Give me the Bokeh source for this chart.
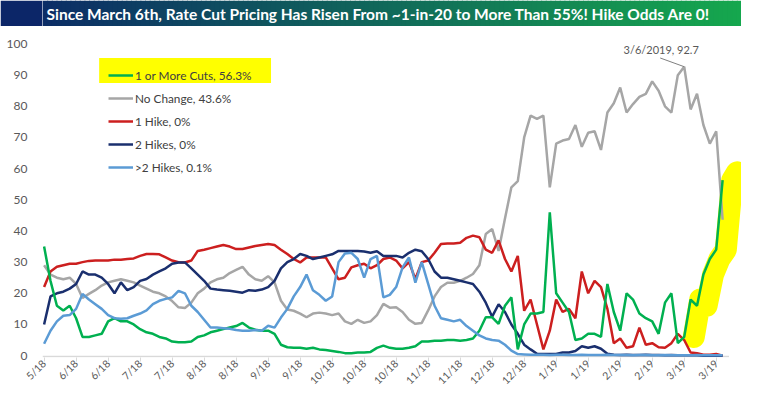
import math
from bokeh.plotting import figure
from bokeh.layouts import column
from bokeh.models import Range1d, FixedTicker, Legend, LegendItem, BoxAnnotation, Label
from bokeh.core.properties import value
from bokeh.embed import file_html
from bokeh.resources import INLINE

# ---------------- data ----------------
title_text = "Since March 6th, Rate Cut Pricing Has Risen From ~1-in-20 to More Than 55%! Hike Odds Are 0!"
tick_labels = ["5/18", "6/18", "6/18", "7/18", "7/18", "8/18", "8/18", "9/18", "9/18",
               "10/18", "10/18", "10/18", "11/18", "11/18", "12/18", "12/18",
               "1/19", "1/19", "2/19", "2/19", "3/19", "3/19"]
tick_step = 10          # observations between labelled ticks
obs_step = 2            # observations between sampled points
peak_date = "3/6/2019"

cuts = [35, 24, 16, 14.5, 16, 12, 6, 6, 6.5, 7,
        11, 12, 11, 11, 10, 8.5, 7.5, 7, 6, 5.5,
        4.5, 4.3, 4.3, 4.5, 6, 6.5, 7.5, 8, 8.5, 9,
        9.5, 10.5, 9, 8.3, 8, 8, 7, 3.5, 2.7, 2.5,
        2.5, 2.2, 2.5, 2, 1.8, 1.5, 1.2, 0.8, 0.8, 1,
        1, 1.2, 2.5, 3.2, 2.5, 2.2, 2.2, 2.5, 3, 4.5,
        4.5, 4.8, 4.8, 5, 5, 4.8, 5, 5.5, 8, 12.3,
        12.3, 10.2, 16, 18.7, 2, 10, 13.5, 13.5, 14, 46,
        20, 17, 14, 5, 5.5, 7, 7, 6, 23, 14,
        8, 20, 18, 13.5, 12, 11, 7, 17, 20, 4,
        6, 18, 16, 26, 31, 34, 56.3]

no_change = [29, 26, 25, 24.5, 25, 23, 18.5, 19.8, 21, 22.5,
             23.5, 24, 24.5, 24, 23.5, 22.5, 21.5, 20.5, 20, 19,
             17.5, 15.5, 15.3, 17, 20, 21.5, 23.5, 24.5, 25, 26.5,
             27.5, 28.5, 26, 24.5, 24, 25.5, 23.5, 17.6, 14.8, 14.4,
             13.5, 12.3, 13.5, 13.8, 13.5, 13, 13.5, 11, 10.2, 11.5,
             10.5, 11, 13, 16.6, 15.4, 15.5, 14, 11.5, 10.2, 10.5,
             14.5, 19, 22, 23.4, 23.4, 24, 25, 26.2, 29, 39,
             40.6, 33.6, 44, 54, 56, 70, 77, 76, 77, 54,
             68, 69, 69.5, 74, 67, 71.5, 72, 66, 78, 81,
             86, 78, 80.7, 83, 84, 88, 85, 80, 78, 90,
             92.7, 79, 84, 74, 68, 72, 43.6]

hike1 = [22, 27, 28.5, 29, 29.5, 29.5, 30, 30.4, 30.5, 30.5,
         30.5, 30.8, 30.8, 31, 31.2, 32, 32.6, 32.6, 32.5, 31.5,
         30.5, 30, 29.9, 30.5, 33.6, 34, 34.5, 35, 35.5, 35,
         34.2, 34.2, 34.7, 35.2, 35.5, 35.8, 35.5, 34, 32.6, 31,
         29.9, 31.5, 31.5, 31.5, 31.5, 28, 24.5, 25, 28.3, 29,
         29.5, 28, 29, 31, 31.5, 30.5, 28, 30, 24.6, 30,
         30.5, 33, 35.8, 36, 36, 36.2, 37.8, 38.5, 38, 34,
         33, 37, 31, 27, 32, 14.4, 18, 10, 2, 8,
         18, 14, 15, 12, 27, 20, 24, 22, 15, 4,
         5.5, 2.5, 3, 9, 3.5, 4, 2.7, 2.5, 4, 7,
         5, 1, 0.8, 0.3, 0.3, 0.5, 0]

hike2 = [10, 19, 20, 20.5, 21.5, 23, 27, 26, 26, 25,
         23, 20, 23.5, 21, 22, 24, 24.6, 26, 27, 28,
         29.5, 29.9, 29.9, 28, 26, 24, 21.5, 21.2, 21, 20.8,
         20.5, 20.2, 21, 20.8, 21.2, 22, 24, 28, 30, 31,
         32.6, 32, 31, 31.5, 32, 32.5, 33.6, 33.6, 33.6, 33.6,
         33.4, 33, 33.5, 32, 32, 32, 31.5, 33, 34, 33.5,
         31, 27, 25, 25, 24.5, 24, 23.5, 23, 20.5, 17,
         12.5, 16.5, 14, 10, 7, 3.5, 2, 0.6, 0.5, 0.5,
         0.5, 1, 1, 1.5, 3, 2.5, 3, 2.2, 0.6, 0.3,
         0.2, 0.3, 0.2, 0.2, 0.3, 0.2, 0.2, 0.1, 0.2, 0.1,
         0.1, 0.1, 0.1, 0, 0, 0, 0]

hike3 = [3.8, 8, 11, 12.8, 13, 15, 19.8, 18, 16.5, 15,
         13, 12, 11.8, 12, 12.8, 13.5, 14.5, 16.5, 17.6, 18.2,
         18.7, 20.8, 20, 16, 14, 11.5, 9, 9, 8.8, 8.6,
         8.2, 8, 8, 8.2, 8, 9.6, 9, 12.2, 15, 19,
         22, 26, 21, 19.5, 17.6, 19, 30, 32.8, 33, 31,
         25, 31, 32, 18.7, 19.5, 22, 28.3, 31.5, 23.4, 30,
         23, 16, 12, 11.5, 11, 11.5, 9.5, 8, 6.5, 5.5,
         5, 4.8, 3.5, 1.6, 0.5, 0.4, 0.3, 0.3, 0.3, 0.2,
         0.3, 0.3, 0.2, 0.2, 0.3, 0.2, 0.2, 0.2, 0.3, 0.2,
         0.2, 0.2, 0.1, 0.2, 0.2, 0.1, 0.1, 0.2, 0.1, 0.1,
         0.1, 0.1, 0.2, 0.1, 0.1, 0.1, 0.1]

n_obs = len(cuts)
obs = [i * obs_step for i in range(n_obs)]
tick_pos = [i * tick_step for i in range(len(tick_labels))]

# ---------------- style ----------------
FONT = "Lato"
C_CUT = "#00b050"
C_NOCH = "#a6a6a6"
C_H1 = "#cc1f1f"
C_H2 = "#1a2f6e"
C_H3 = "#5b9bd5"
TXT = "#595959"
LW = 2.5
LEFT = 42        # left border (y tick labels)
FW = 699         # frame width

# ---------------- title bar ----------------
c0 = (12, 38, 104)
c1 = (22, 168, 78)
tf = figure(frame_width=FW, frame_height=26, x_range=Range1d(0, FW), y_range=Range1d(0, 1),
            x_axis_location=None, y_axis_location=None,
            toolbar_location=None, output_backend="svg",
            min_border_left=LEFT, min_border_right=0, min_border_top=0, min_border_bottom=0)
tf.grid.visible = False
tf.outline_line_color = None
tf.border_fill_color = "#%02x%02x%02x" % c0
nseg = 150
lefts, rights, cols = [], [], []
for i in range(nseg):
    t = (LEFT + FW * (i + 0.5) / nseg) / (LEFT + FW)
    r = int(c0[0] + (c1[0] - c0[0]) * t)
    g = int(c0[1] + (c1[1] - c0[1]) * t)
    b = int(c0[2] + (c1[2] - c0[2]) * t)
    cols.append("#%02x%02x%02x" % (r, g, b))
    lefts.append(FW * i / nseg)
    rights.append(FW * (i + 1) / nseg + 1)
tf.quad(left=lefts, right=rights, bottom=0, top=1, fill_color=cols, line_color=None)
tf.add_layout(Label(x=4, y=0.5, text=title_text, text_align="left", text_baseline="middle",
                    text_color="white", text_font=FONT, text_font_style="bold",
                    text_font_size="15.5px"))

# ---------------- main chart ----------------
y0 = -0.6
p = figure(frame_width=FW, frame_height=326, x_range=Range1d(-0.5, 217.9), y_range=Range1d(y0, 104),
           toolbar_location=None, output_backend="svg",
           min_border_left=LEFT, min_border_right=0, min_border_top=5, min_border_bottom=0)
p.grid.visible = False
p.outline_line_color = None
p.background_fill_color = "white"

p.yaxis.ticker = FixedTicker(ticks=list(range(0, 101, 10)))
p.yaxis.axis_line_color = None
p.yaxis.major_tick_line_color = None
p.yaxis.minor_tick_line_color = None
p.yaxis.major_label_text_color = TXT
p.yaxis.major_label_text_font = FONT
p.yaxis.major_label_text_font_size = "12px"
p.yaxis.major_label_standoff = 9

p.xaxis.ticker = FixedTicker(ticks=tick_pos)
p.xaxis.major_label_overrides = {tp: lab for tp, lab in zip(tick_pos, tick_labels)}
p.xaxis.major_label_orientation = math.pi / 4
p.xaxis.axis_line_color = None
p.xaxis.major_tick_out = 4
p.xaxis.major_tick_in = 0
p.xaxis.major_tick_line_color = "#d9d9d9"
p.xaxis.minor_tick_line_color = None
p.xaxis.major_label_text_color = TXT
p.xaxis.major_label_text_font = FONT
p.xaxis.major_label_text_font_size = "10.5px"
p.xaxis.major_label_standoff = 0

# baseline (axis line) spanning the data
p.line(x=[obs[0] - 0.5, obs[-1] + 2], y=[y0 + 0.3, y0 + 0.3], line_color="#d9d9d9", line_width=1.5)

# yellow highlights
p.add_layout(BoxAnnotation(left=17.2, right=70.9, top=95.5, bottom=87.5,
                           fill_color="#ffff00", fill_alpha=1, line_color=None, level="underlay"))
tail = 7
hx = [x + 3 for x in obs[-tail:]] + [obs[-1] + 4.5]
hy = cuts[-tail:] + [cuts[-1] + 2.5]
p.line(x=hx, y=hy, line_color="#ffff00", line_width=22, line_cap="round", line_join="round")

r_noch = p.line(obs, no_change, line_color=C_NOCH, line_width=LW)
r_h1 = p.line(obs, hike1, line_color=C_H1, line_width=LW)
r_h2 = p.line(obs, hike2, line_color=C_H2, line_width=LW)
r_cut = p.line(obs, cuts, line_color=C_CUT, line_width=LW)
r_h3 = p.line(obs, hike3, line_color=C_H3, line_width=LW)

# peak annotation
ip = max(range(n_obs), key=lambda i: no_change[i])
p.segment(x0=[obs[ip] - 7.5], y0=[no_change[ip] + 2.8], x1=[obs[ip]], y1=[no_change[ip]],
          line_color="#7f7f7f", line_width=1)
p.text(x=[obs[ip]], y=[no_change[ip]], text=["%s, %s" % (peak_date, no_change[ip])],
       x_offset=-23, y_offset=-17, text_align="center", text_baseline="middle",
       text_color=TXT, text_font=value(FONT), text_font_size="11px")

def fmt(v):
    return ("%g" % v) + "%"

legend = Legend(items=[
    LegendItem(label="1 or More Cuts, " + fmt(cuts[-1]), renderers=[r_cut]),
    LegendItem(label="No Change, " + fmt(no_change[-1]), renderers=[r_noch]),
    LegendItem(label="1 Hike, " + fmt(hike1[-1]), renderers=[r_h1]),
    LegendItem(label="2 Hikes, " + fmt(hike2[-1]), renderers=[r_h2]),
    LegendItem(label=">2 Hikes, " + fmt(hike3[-1]), renderers=[r_h3]),
], location=(66, 180))
legend.glyph_width = 25
legend.glyph_height = 20
legend.label_height = 20
legend.spacing = 3
legend.padding = 0
legend.margin = 0
legend.label_standoff = 2
legend.label_text_font = FONT
legend.label_text_font_size = "11.8px"
legend.label_text_color = "#404040"
legend.border_line_color = None
legend.background_fill_alpha = 0
p.add_layout(legend)

layout = column(tf, p, spacing=0)
open("out.html", "w").write(file_html(layout, INLINE))
